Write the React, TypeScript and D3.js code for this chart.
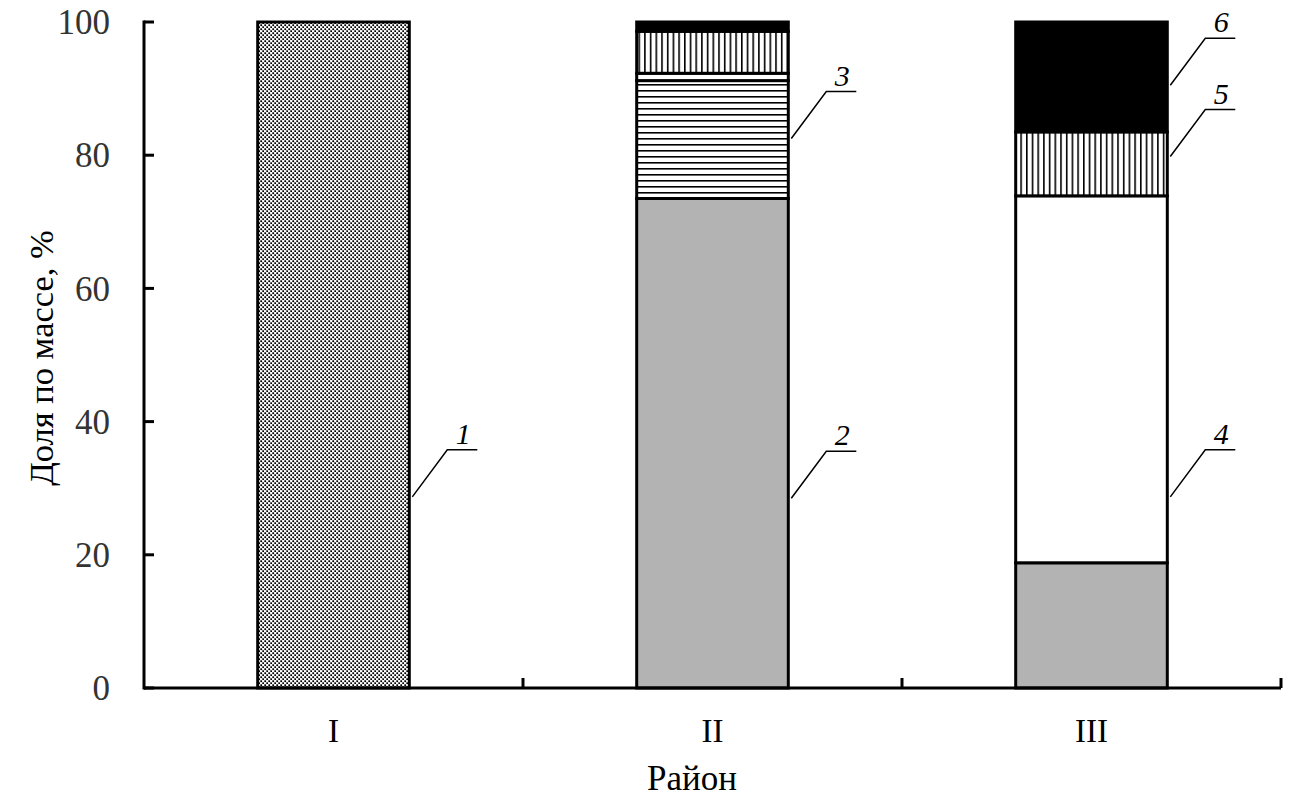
import React from "react";
import * as d3 from "d3";

const categories = ["I", "II", "III"];
const seriesKeys = ["1", "2", "3", "4", "5", "6"];
const s1 = [100, 0, 0];
const s2 = [0, 73.5, 18.8];
const s3 = [0, 17.7, 0];
const s4 = [0, 1.1, 55.1];
const s5 = [0, 6.3, 9.6];
const s6 = [0, 1.4, 16.5];
const yTicks = [0, 20, 40, 60, 80, 100];
// label: series name, category, value where the leader touches bar
const labelNames = ["1", "2", "3", "4", "5", "6"];
const labelCats = ["I", "II", "II", "III", "III", "III"];
const labelVals = [28.7, 28.5, 82.5, 28.7, 79.8, 90.5];

const W = 1299;
const H = 798;

export default function App() {
  const x = d3.scaleBand<string>().domain(categories).range([144, 1281]).paddingInner(0.6).paddingOuter(0.3);
  const y = d3.scaleLinear().domain([0, 100]).range([688, 22]);
  const seriesVals = [s1, s2, s3, s4, s5, s6];
  const table = categories.map((c, i) => {
    const row: any = { cat: c };
    seriesKeys.forEach((k, j) => (row[k] = seriesVals[j][i]));
    return row;
  });
  const stack = d3.stack<any>().keys(seriesKeys)(table);
  const fills: Record<string, string> = {
    "1": "url(#checker)",
    "2": "#b3b3b3",
    "3": "url(#hstripes)",
    "4": "#ffffff",
    "5": "url(#vstripes)",
    "6": "#000000",
  };
  const bw = x.bandwidth();
  const font = "'Liberation Serif', 'Times New Roman', serif";
  const xTickPos = [1, 2, 3].map((i) => 144 + x.step() * i);

  return (
    <svg width={W} height={H} style={{ position: "absolute", left: 0, top: 0, background: "#fff" }}>
      <defs>
        <pattern id="checker" width={4} height={4} patternUnits="userSpaceOnUse">
          <rect width={4} height={4} fill="#fff" />
          <rect x={0.3} y={0.3} width={1.8} height={1.8} fill="#000" />
          <rect x={2.3} y={2.3} width={1.8} height={1.8} fill="#000" />
        </pattern>
        <pattern id="hstripes" width={8} height={6} patternUnits="userSpaceOnUse">
          <rect width={8} height={6} fill="#fff" />
          <rect x={0} y={0} width={8} height={1.6} fill="#000" />
        </pattern>
        <pattern id="vstripes" width={5.7} height={8} patternUnits="userSpaceOnUse">
          <rect width={5.7} height={8} fill="#fff" />
          <rect x={0} y={0} width={1.6} height={8} fill="#000" />
        </pattern>
      </defs>
      <rect width={W} height={H} fill="#fff" />
      {stack.map((layer) =>
        layer.map((d, i) => {
          const v = d[1] - d[0];
          if (v <= 0) return null;
          const cat = categories[i];
          return (
            <rect
              key={layer.key + cat}
              x={x(cat)}
              y={y(d[1])}
              width={bw}
              height={y(d[0]) - y(d[1])}
              fill={fills[layer.key]}
              stroke="#000"
              strokeWidth={3}
            />
          );
        })
      )}
      {/* axes */}
      <line x1={144} y1={688} x2={1281} y2={688} stroke="#000" strokeWidth={3} />
      <line x1={144} y1={20.5} x2={144} y2={689.5} stroke="#000" strokeWidth={3} />
      {yTicks.map((t) => (
        <g key={t}>
          <line x1={144} x2={154} y1={y(t)} y2={y(t)} stroke="#000" strokeWidth={3} />
          <text x={110} y={y(t)} dy="0.35em" textAnchor="end" fontFamily={font} fontSize={35} fill="#333">
            {t}
          </text>
        </g>
      ))}
      {xTickPos.map((px) => (
        <line key={px} x1={px} x2={px} y1={688} y2={678} stroke="#000" strokeWidth={3} />
      ))}
      {categories.map((c) => (
        <text key={c} x={(x(c) as number) + bw / 2} y={742} textAnchor="middle" fontFamily={font} fontSize={33} fill="#000">
          {c}
        </text>
      ))}
      <text x={692} y={790} textAnchor="middle" fontFamily={font} fontSize={35} fill="#000">
        Район
      </text>
      <text
        transform={`translate(53, 358) rotate(-90)`}
        textAnchor="middle"
        fontFamily={font}
        fontSize={34.5}
        fill="#000"
      >
        Доля по массе, %
      </text>
      {labelNames.map((n, i) => {
        const x0 = (x(labelCats[i]) as number) + bw + 3;
        const y0 = y(labelVals[i]);
        const x1 = x0 + 35;
        const y1 = y0 - 47;
        const x2 = x1 + 30;
        return (
          <g key={n}>
            <polyline points={`${x0},${y0} ${x1},${y1} ${x2},${y1}`} fill="none" stroke="#000" strokeWidth={1.5} />
            <text x={x1 + 16} y={y1 - 6} textAnchor="middle" fontFamily={font} fontStyle="italic" fontSize={30} fill="#000">
              {n}
            </text>
          </g>
        );
      })}
    </svg>
  );
}
